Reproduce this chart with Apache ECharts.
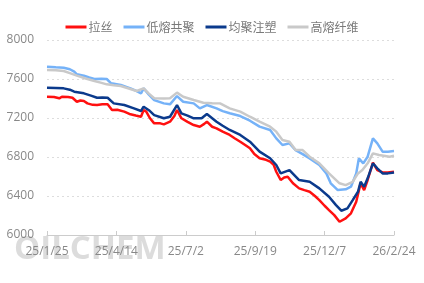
<!DOCTYPE html>
<html>
<head>
<meta charset="utf-8">
<script src="https://cdn.jsdelivr.net/npm/echarts@6/dist/echarts.min.js"></script>
<style>
html,body{margin:0;padding:0;background:#fff;}
#c{width:424px;height:283px;}
</style>
</head>
<body>
<div id="c"></div>
<script>
// x tick labels (every 79 days from 2025/1/25)
const xLabels = ['25/1/25', '25/4/14', '25/7/2', '25/9/19', '25/12/7', '26/2/24'];
const seriesNames = ['拉丝', '低熔共聚', '均聚注塑', '高熔纤维'];

// [day offset from 2025/1/25, price]
const lasi = [[0,7418],[8,7415],[14,7402],[17,7418],[24,7415],[29,7408],[34,7367],[38,7380],[42,7374],[46,7350],[52,7335],[57,7333],[63,7340],[69,7340],[74,7282],[80,7285],[88,7265],[95,7238],[101,7225],[107,7213],[110,7282],[113,7265],[117,7200],[122,7145],[129,7145],[133,7135],[140,7162],[145,7220],[148,7282],[153,7197],[160,7160],[167,7128],[174,7111],[179,7140],[182,7162],[188,7110],[193,7094],[200,7060],[208,7026],[214,6990],[220,6957],[226,6920],[231,6889],[236,6830],[242,6787],[248,6775],[254,6752],[258,6720],[261,6649],[266,6564],[270,6590],[274,6598],[280,6530],[287,6478],[293,6460],[299,6444],[305,6400],[310,6358],[316,6300],[321,6256],[327,6204],[333,6136],[340,6171],[346,6222],[352,6341],[357,6530],[361,6461],[365,6564],[371,6742],[376,6666],[382,6642],[388,6640],[395,6649]];
const dirong = [[0,7726],[10,7720],[19,7716],[26,7700],[31,7675],[34,7648],[42,7634],[48,7615],[54,7600],[62,7602],[68,7600],[73,7556],[84,7538],[95,7504],[101,7480],[107,7453],[110,7504],[116,7440],[122,7384],[133,7350],[140,7340],[148,7425],[155,7367],[167,7350],[174,7299],[182,7333],[193,7299],[200,7270],[208,7248],[220,7220],[231,7172],[242,7111],[254,7077],[261,6991],[268,6923],[276,6940],[283,6871],[291,6830],[299,6786],[310,6718],[318,6632],[323,6530],[331,6461],[340,6468],[346,6495],[352,6632],[355,6786],[360,6735],[365,6803],[371,6991],[376,6940],[382,6855],[388,6855],[395,6861]];
const junju = [[0,7511],[10,7508],[19,7504],[26,7490],[31,7470],[42,7453],[50,7430],[57,7408],[63,7410],[69,7408],[76,7350],[88,7333],[99,7299],[107,7272],[110,7316],[116,7280],[122,7230],[133,7197],[140,7213],[148,7333],[153,7248],[160,7225],[167,7197],[176,7197],[182,7240],[193,7162],[200,7120],[208,7077],[220,7026],[231,6957],[242,6855],[254,6787],[261,6718],[266,6632],[276,6666],[287,6564],[299,6546],[310,6478],[321,6392],[329,6307],[335,6249],[342,6273],[348,6358],[354,6444],[357,6546],[361,6495],[365,6581],[371,6735],[376,6684],[382,6632],[388,6632],[395,6642]];
const gaorong = [[0,7692],[10,7690],[19,7682],[26,7660],[34,7634],[44,7605],[54,7579],[62,7560],[68,7545],[76,7535],[84,7528],[94,7500],[102,7477],[110,7504],[116,7450],[122,7402],[133,7400],[140,7402],[148,7460],[155,7418],[167,7384],[178,7357],[188,7352],[197,7350],[208,7299],[220,7265],[231,7213],[242,7162],[254,7111],[261,7060],[268,6974],[276,6957],[283,6871],[291,6871],[299,6803],[310,6735],[321,6632],[333,6530],[340,6512],[348,6546],[354,6632],[359,6666],[365,6735],[371,6837],[378,6820],[390,6803],[395,6812]];

const colors = ['#ff1010', '#75b2f8', '#0b3a8c', '#c9c9c9'];
const dataSets = [lasi, dirong, junju, gaorong];

const chart = echarts.init(document.getElementById('c'));
chart.setOption({
  animation: false,
  backgroundColor: '#fff',
  color: colors,
  textStyle: { fontFamily: "'Open Sans', 'Noto Sans CJK SC', sans-serif" },
  graphic: [{
    type: 'text',
    left: 14,
    top: 233,
    z: -10,
    silent: true,
    style: {
      text: 'OILCHEM',
      font: "bold 33px 'Open Sans', sans-serif",
      fill: 'rgba(185,185,185,0.5)'
    }
  }],
  legend: {
    top: 16,
    left: 'center',
    icon: 'rect',
    itemWidth: 21,
    itemHeight: 3,
    itemGap: 11,
    textStyle: { color: '#7a7a7a', fontSize: 12, fontFamily: "'Noto Sans CJK SC', sans-serif", padding: [0, 0, 0, -3] },
    data: seriesNames
  },
  grid: { left: 47, right: 30, top: 40, bottom: 48, containLabel: false },
  xAxis: {
    type: 'value',
    min: 0,
    max: 395,
    interval: 79,
    axisLine: { show: true, lineStyle: { color: '#cccccc', width: 1 } },
    axisTick: { show: true, inside: true, length: 4, lineStyle: { color: '#cccccc' } },
    splitLine: { show: false },
    axisLabel: {
      color: '#888',
      fontSize: 12,
      margin: 11,
      showMinLabel: true,
      showMaxLabel: true,
      formatter: v => xLabels[Math.round(v / 79)] || ''
    }
  },
  yAxis: {
    type: 'value',
    min: 6000,
    max: 8000,
    interval: 400,
    axisLine: { show: false },
    axisTick: { show: false },
    axisLabel: { color: '#888', fontSize: 12, margin: 13, formatter: v => String(v) },
    splitLine: { lineStyle: { color: '#dddddd', type: [2, 3], width: 1 } }
  },
  series: seriesNames.map((n, i) => ({
    name: n,
    type: 'line',
    data: dataSets[i],
    showSymbol: false,
    symbol: 'none',
    lineStyle: { width: 2.5, color: colors[i] },
    itemStyle: { color: colors[i] }
  }))
});
</script>
</body>
</html>
